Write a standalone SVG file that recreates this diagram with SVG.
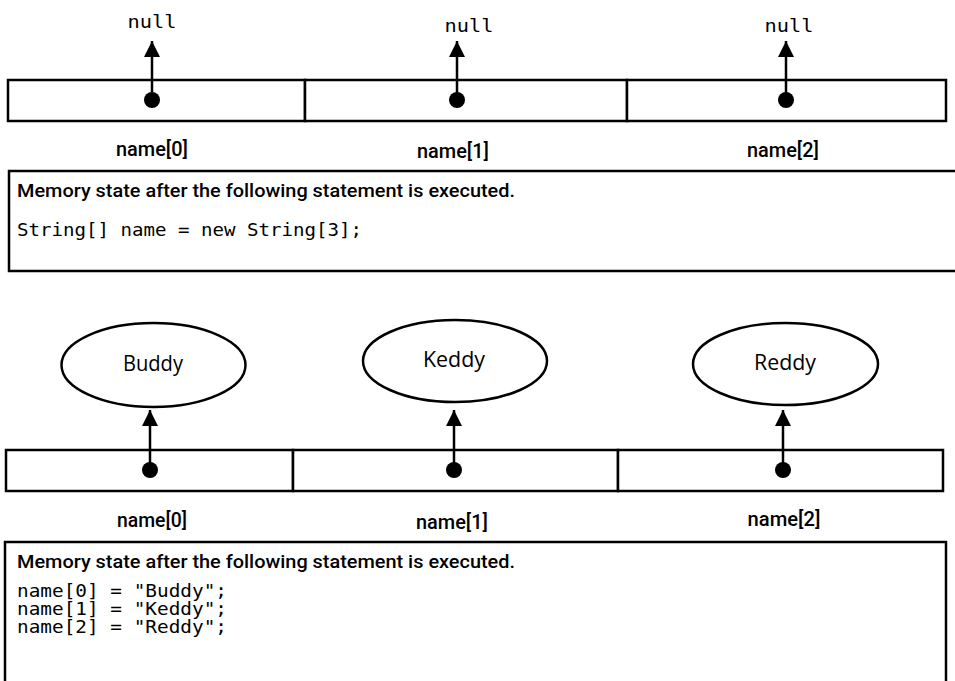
<svg xmlns="http://www.w3.org/2000/svg" width="955" height="681" viewBox="0 0 955 681">
<style>
.cell{fill:#fff;stroke:#000;stroke-width:2.5}
.box{fill:#fff;stroke:#000;stroke-width:2.5}
.obj{fill:#fff;stroke:#000;stroke-width:2.5}
.wire{stroke:#000;stroke-width:2.5;fill:none}
.dot{fill:#000}
.mono{font-family:"DejaVu Sans Mono","Liberation Mono",monospace;font-size:17px;fill:#000}
.lbl{font-family:Roboto,"Liberation Sans",Arial,sans-serif;font-size:20px;fill:#000;font-weight:500}
.cap{font-family:Roboto,"Liberation Sans",Arial,sans-serif;font-size:18px;fill:#000;font-weight:500}
.val{font-family:"Open Sans","Noto Sans","Liberation Sans",sans-serif;font-size:22px;fill:#000}
</style>
<defs>
<marker id="ah" viewBox="0 0 10 10" refX="10" refY="5" markerWidth="6.4" markerHeight="6.4" markerUnits="strokeWidth" orient="auto">
<path d="M0,0 L10,5 L0,10 z" fill="#000"/>
</marker>
</defs>
<rect width="955" height="681" fill="#fff"/>

<!-- top array -->
<g id="top-array">
<rect class="cell" x="8" y="80" width="297" height="41"/>
<rect class="cell" x="305" y="80" width="322" height="41"/>
<rect class="cell" x="627" y="80" width="319" height="41"/>
</g>
<g id="null0"><text class="mono" x="152" y="28" text-anchor="middle" font-size="20" textLength="49" lengthAdjust="spacingAndGlyphs">null</text></g>
<g id="null1"><text class="mono" x="469" y="32" text-anchor="middle" font-size="20" textLength="49" lengthAdjust="spacingAndGlyphs">null</text></g>
<g id="null2"><text class="mono" x="789" y="32" text-anchor="middle" font-size="20" textLength="49" lengthAdjust="spacingAndGlyphs">null</text></g>
<g id="top-labels">
<text class="lbl" x="152" y="156" text-anchor="middle" textLength="72" lengthAdjust="spacingAndGlyphs">name[0]</text>
<text class="lbl" x="453" y="158" text-anchor="middle" textLength="72" lengthAdjust="spacingAndGlyphs">name[1]</text>
<text class="lbl" x="783" y="157" text-anchor="middle" textLength="72" lengthAdjust="spacingAndGlyphs">name[2]</text>
</g>
<g id="top-box">
<path class="box" d="M960,171 L9,171 L9,271 L960,271"/>
<text class="cap" x="17" y="197" textLength="498" lengthAdjust="spacingAndGlyphs">Memory state after the following statement is executed.</text>
<text class="mono" x="17" y="236" textLength="345" lengthAdjust="spacingAndGlyphs">String[] name = new String[3];</text>
</g>

<!-- bottom objects -->
<g id="buddy">
<ellipse class="obj" cx="153.5" cy="365" rx="92" ry="42"/>
<text class="val" x="153" y="371" text-anchor="middle" textLength="60" lengthAdjust="spacingAndGlyphs">Buddy</text>
</g>
<g id="keddy">
<ellipse class="obj" cx="455" cy="361" rx="92" ry="41"/>
<text class="val" x="454" y="367" text-anchor="middle" textLength="62" lengthAdjust="spacingAndGlyphs">Keddy</text>
</g>
<g id="reddy">
<ellipse class="obj" cx="785.5" cy="364" rx="92.5" ry="41"/>
<text class="val" x="785" y="370" text-anchor="middle" textLength="62" lengthAdjust="spacingAndGlyphs">Reddy</text>
</g>

<!-- bottom array -->
<g id="bottom-array">
<rect class="cell" x="6" y="450" width="287" height="41"/>
<rect class="cell" x="293" y="450" width="325" height="41"/>
<rect class="cell" x="618" y="450" width="325" height="41"/>
</g>
<g id="bottom-labels">
<text class="lbl" x="152" y="527" text-anchor="middle" textLength="70" lengthAdjust="spacingAndGlyphs">name[0]</text>
<text class="lbl" x="452" y="529" text-anchor="middle" textLength="72" lengthAdjust="spacingAndGlyphs">name[1]</text>
<text class="lbl" x="784" y="526" text-anchor="middle" textLength="73" lengthAdjust="spacingAndGlyphs">name[2]</text>
</g>
<g id="bottom-box">
<path class="box" d="M5,690 L5,542 L946,542 L946,690"/>
<text class="cap" x="17" y="568" textLength="498" lengthAdjust="spacingAndGlyphs">Memory state after the following statement is executed.</text>
<text class="mono" x="17" y="597" textLength="210" lengthAdjust="spacingAndGlyphs">name[0] = "Buddy";</text>
<text class="mono" x="17" y="615" textLength="210" lengthAdjust="spacingAndGlyphs">name[1] = "Keddy";</text>
<text class="mono" x="17" y="633" textLength="210" lengthAdjust="spacingAndGlyphs">name[2] = "Reddy";</text>
</g>

<!-- connectors -->
<g id="connectors">
<line class="wire" x1="152" y1="100" x2="152" y2="41" marker-end="url(#ah)"/>
<line class="wire" x1="457" y1="100" x2="457" y2="41" marker-end="url(#ah)"/>
<line class="wire" x1="786" y1="100" x2="786" y2="41" marker-end="url(#ah)"/>
<circle class="dot" cx="152" cy="100" r="8"/>
<circle class="dot" cx="457" cy="100" r="8"/>
<circle class="dot" cx="786" cy="100" r="8"/>
<line class="wire" x1="150" y1="470" x2="150" y2="410" marker-end="url(#ah)"/>
<line class="wire" x1="454" y1="470" x2="454" y2="410" marker-end="url(#ah)"/>
<line class="wire" x1="783" y1="470" x2="783" y2="410" marker-end="url(#ah)"/>
<circle class="dot" cx="150" cy="470" r="8"/>
<circle class="dot" cx="454" cy="470" r="8"/>
<circle class="dot" cx="783" cy="470" r="8"/>
</g>
</svg>
